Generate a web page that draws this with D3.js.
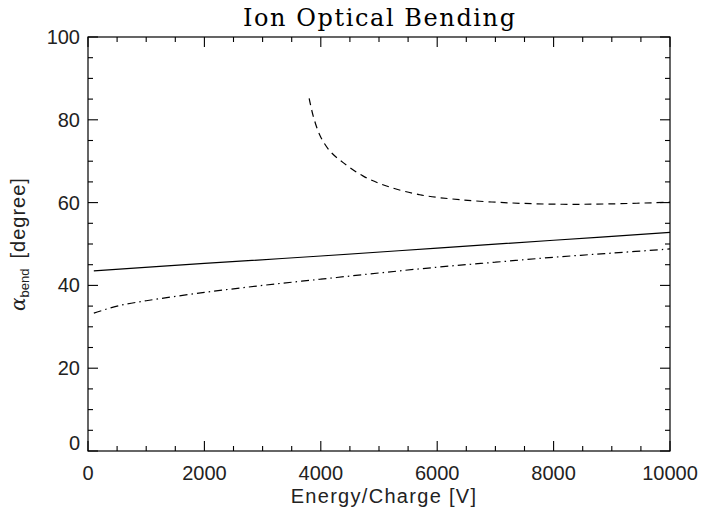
<!DOCTYPE html>
<html>
<head>
<meta charset="utf-8">
<script src="https://cdn.jsdelivr.net/npm/d3@7"></script>
<style>
  html, body { margin: 0; padding: 0; background: #fff; }
  svg { display: block; }
  .tick-label { font-family: "Liberation Sans", Arial, sans-serif; font-size: 20px; fill: #222; }
</style>
</head>
<body>
<svg id="chart" width="711" height="513"></svg>
<script>
// Energy/charge grid (V) and bending angle (degree) for each curve
const solidEnergy = [100, 2000, 4000, 6000, 8000, 10000];
const solidAngle  = [43.5, 45.3, 47.1, 49.0, 50.9, 52.8];

const dashDotEnergy = [100, 500, 1000, 2000, 3000, 4000, 5000, 6000, 7000, 8000, 9000, 10000];
const dashDotAngle  = [33.3, 35.0, 36.3, 38.3, 40.0, 41.5, 43.0, 44.4, 45.6, 46.8, 47.8, 48.8];

const dashedEnergy = [3800, 3870, 3990, 4160, 4390, 4730, 5130, 5700, 6390, 7300, 8160, 9020, 10000];
const dashedAngle  = [85.2, 80.9, 76.1, 72.4, 69.6, 66.4, 64.0, 61.9, 60.7, 59.9, 59.6, 59.7, 60.1];

const xMajorTicks = [0, 2000, 4000, 6000, 8000, 10000];
const yMajorTicks = [0, 20, 40, 60, 80, 100];

const titleText = "Ion Optical Bending";
const xTitle = "Energy/Charge [V]";

const svg = d3.select("#chart");
const m = { left: 88, right: 670, top: 37, bottom: 451 };

const x = d3.scaleLinear().domain([0, 10000]).range([m.left, m.right]);
const y = d3.scaleLinear().domain([0, 100]).range([m.bottom, m.top]);

const xMinor = d3.range(0, 10001, 500);
const yMinor = d3.range(0, 101, 5);

// Box frame
svg.append("rect")
  .attr("x", m.left).attr("y", m.top)
  .attr("width", m.right - m.left).attr("height", m.bottom - m.top)
  .attr("fill", "none").attr("stroke", "#000").attr("stroke-width", 1.2);

const majLen = 10, minLen = 5;
const isMajX = v => v % 2000 === 0;
const isMajY = v => v % 20 === 0;

// Inward ticks on all four sides
const ticks = svg.append("g").attr("stroke", "#000").attr("stroke-width", 1.1);
xMinor.forEach(v => {
  const L = isMajX(v) ? majLen : minLen;
  ticks.append("line").attr("x1", x(v)).attr("x2", x(v)).attr("y1", m.bottom).attr("y2", m.bottom - L);
  ticks.append("line").attr("x1", x(v)).attr("x2", x(v)).attr("y1", m.top).attr("y2", m.top + L);
});
yMinor.forEach(v => {
  const L = isMajY(v) ? majLen : minLen;
  ticks.append("line").attr("x1", m.left).attr("x2", m.left + L).attr("y1", y(v)).attr("y2", y(v));
  ticks.append("line").attr("x1", m.right).attr("x2", m.right - L).attr("y1", y(v)).attr("y2", y(v));
});

// Tick labels
svg.append("g").selectAll("text").data(xMajorTicks).join("text")
  .attr("class", "tick-label")
  .attr("x", d => x(d)).attr("y", m.bottom + 29)
  .attr("text-anchor", "middle")
  .text(d => d);

svg.append("g").selectAll("text").data(yMajorTicks).join("text")
  .attr("class", "tick-label")
  .attr("x", m.left - 8)
  .attr("y", d => y(d) + 7 - (d === 0 ? 8 : 0))
  .attr("text-anchor", "end")
  .text(d => d);

// Title
svg.append("text")
  .attr("x", 379).attr("y", 26)
  .attr("text-anchor", "middle")
  .attr("font-family", "'DejaVu Serif', 'Liberation Serif', serif")
  .attr("font-size", 24)
  .attr("textLength", 272)
  .attr("lengthAdjust", "spacing")
  .text(titleText);

// X axis title
svg.append("text")
  .attr("class", "tick-label")
  .attr("x", 384).attr("y", 503)
  .attr("text-anchor", "middle")
  .attr("letter-spacing", 1.3)
  .text(xTitle);

// Y axis title: alpha with subscript
const yt = svg.append("text")
  .attr("class", "tick-label")
  .attr("transform", "translate(25,244) rotate(-90)")
  .attr("text-anchor", "middle");
yt.append("tspan").attr("font-family", "'DejaVu Serif', serif").attr("font-style", "italic").text("α");
yt.append("tspan").attr("font-size", 13).attr("dy", 4).text("bend");
yt.append("tspan").attr("dy", -4).attr("dx", 10).attr("letter-spacing", 1).text("[degree]");

// Curves
const line = d3.line().x(d => x(d[0])).y(d => y(d[1])).curve(d3.curveCatmullRom.alpha(0.5));
const curves = [
  { e: solidEnergy, a: solidAngle, dash: null },
  { e: dashDotEnergy, a: dashDotAngle, dash: "8,4,1.5,4" },
  { e: dashedEnergy, a: dashedAngle, dash: "7,5" }
];
curves.forEach(c => {
  const pts = c.e.map((v, i) => [v, c.a[i]]);
  svg.append("path")
    .attr("d", line(pts))
    .attr("fill", "none")
    .attr("stroke", "#000")
    .attr("stroke-width", 1.2)
    .attr("stroke-dasharray", c.dash);
});
</script>
</body>
</html>
